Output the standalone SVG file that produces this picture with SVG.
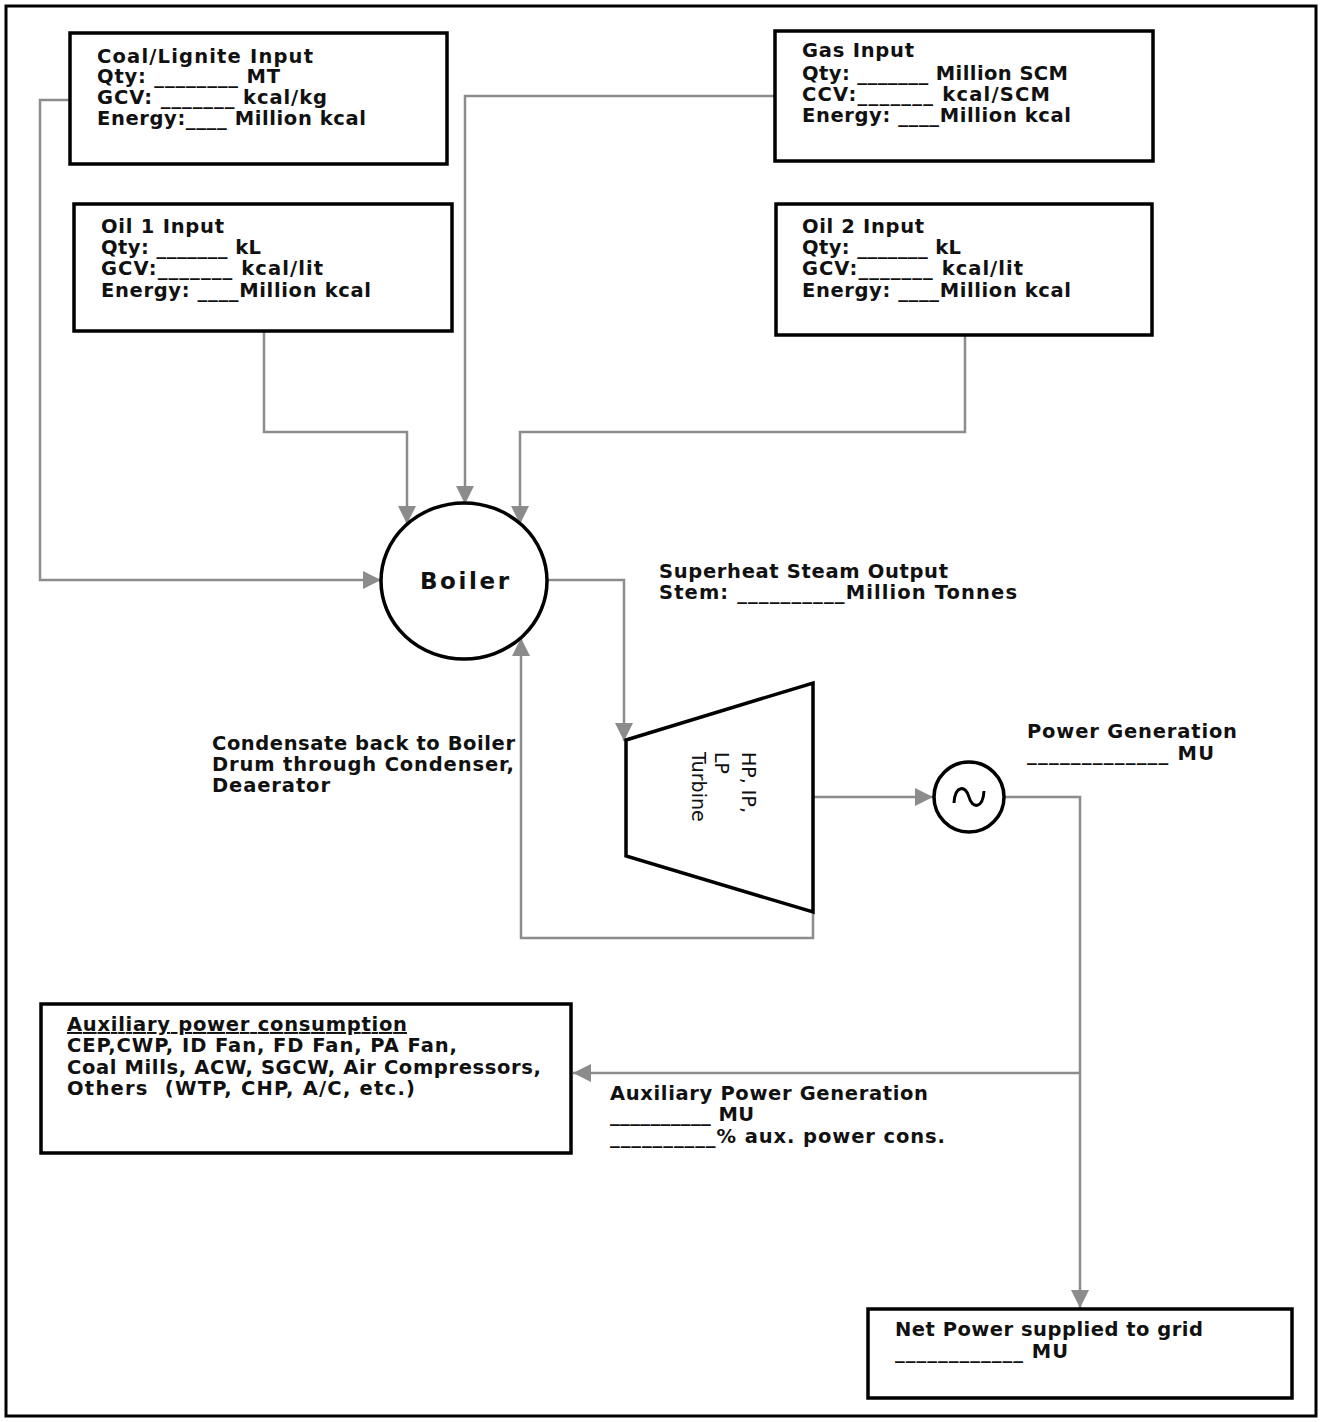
<svg xmlns="http://www.w3.org/2000/svg" width="1320" height="1422" viewBox="0 0 1320 1422">
<style>
.t{font-family:"DejaVu Sans","Verdana",sans-serif;font-weight:bold;font-size:19.5px;fill:#111}
.box{fill:#fff;stroke:#000;stroke-width:3.5}
.c{fill:none;stroke:#8c8c8c;stroke-width:2.5}
.shape{fill:#fff;stroke:#000;stroke-width:3.5}
.rt{font-family:"DejaVu Sans",sans-serif;font-size:19px;fill:#111}
</style>
<defs>
<marker id="ah" markerUnits="userSpaceOnUse" markerWidth="20" markerHeight="18" refX="18" refY="9" orient="auto">
<path d="M0,0 L18,9 L0,18 Z" fill="#8c8c8c"/>
</marker>
</defs>
<rect x="0" y="0" width="1320" height="1422" fill="#fff"/>
<rect x="6" y="6" width="1310" height="1410" fill="none" stroke="#000" stroke-width="3"/>

<g id="connectors">
<polyline class="c" points="70,100 40,100 40,580 381,580" marker-end="url(#ah)"/>
<polyline class="c" points="776,96 465,96 465,504" marker-end="url(#ah)"/>
<polyline class="c" points="264,331 264,432 407,432 407,524" marker-end="url(#ah)"/>
<polyline class="c" points="965,335 965,432 520,432 520,524" marker-end="url(#ah)"/>
<polyline class="c" points="547,580 624,580 624,741" marker-end="url(#ah)"/>
<polyline class="c" points="813,912 813,938 521,938 521,638" marker-end="url(#ah)"/>
<polyline class="c" points="813,797 933,797" marker-end="url(#ah)"/>
<polyline class="c" points="1005,797 1080,797 1080,1308" marker-end="url(#ah)"/>
<polyline class="c" points="1080,1073 573,1073" marker-end="url(#ah)"/>
</g>

<g id="coal">
<rect class="box" x="70" y="33" width="377" height="131"/>
<text class="t" x="97" y="63" textLength="216">Coal/Lignite Input</text>
<text class="t" x="97" y="83" textLength="183">Qty: ________ MT</text>
<text class="t" x="97" y="104" textLength="230">GCV: _______ kcal/kg</text>
<text class="t" x="97" y="125" textLength="269">Energy:____ Million kcal</text>
</g>

<g id="gas">
<rect class="box" x="775" y="31" width="378" height="130"/>
<text class="t" x="802" y="57" textLength="112">Gas Input</text>
<text class="t" x="802" y="80" textLength="266">Qty: _______ Million SCM</text>
<text class="t" x="802" y="101" textLength="248">CCV:_______ kcal/SCM</text>
<text class="t" x="802" y="122" textLength="269">Energy: ____Million kcal</text>
</g>

<g id="oil1">
<rect class="box" x="74" y="204" width="378" height="127"/>
<text class="t" x="101" y="233" textLength="123">Oil 1 Input</text>
<text class="t" x="101" y="254" textLength="160">Qty: _______ kL</text>
<text class="t" x="101" y="275" textLength="222">GCV:_______ kcal/lit</text>
<text class="t" x="101" y="297" textLength="270">Energy: ____Million kcal</text>
</g>

<g id="oil2">
<rect class="box" x="776" y="204" width="376" height="131"/>
<text class="t" x="802" y="233" textLength="122">Oil 2 Input</text>
<text class="t" x="802" y="254" textLength="159">Qty: _______ kL</text>
<text class="t" x="802" y="275" textLength="221">GCV:_______ kcal/lit</text>
<text class="t" x="802" y="297" textLength="269">Energy: ____Million kcal</text>
</g>

<g id="boiler">
<ellipse class="shape" cx="464" cy="581" rx="83" ry="78"/>
<text class="t" x="420" y="589" textLength="89" style="font-size:23px">Boiler</text>
</g>

<g id="steam-label">
<text class="t" x="659" y="578" textLength="289">Superheat Steam Output</text>
<text class="t" x="659" y="599" textLength="358">Stem: __________Million Tonnes</text>
</g>

<g id="turbine">
<polygon class="shape" points="626,740 813,683 813,912 626,856"/>
<g transform="translate(742,752) rotate(90)">
<text class="rt" x="0" y="0">HP, IP,</text>
<text class="rt" x="0" y="27">LP</text>
<text class="rt" x="0" y="50">Turbine</text>
</g>
</g>

<g id="condensate-label">
<text class="t" x="212" y="750" textLength="303">Condensate back to Boiler</text>
<text class="t" x="212" y="771" textLength="302">Drum through Condenser,</text>
<text class="t" x="212" y="792" textLength="118">Deaerator</text>
</g>

<g id="generator">
<circle class="shape" cx="969" cy="797" r="35"/>
<path d="M954,803 C955,785 966,785 969,797 C972,809 983,809 984,791" fill="none" stroke="#000" stroke-width="3"/>
</g>

<g id="power-gen-label">
<text class="t" x="1027" y="738" textLength="210">Power Generation</text>
<text class="t" x="1027" y="760" textLength="187">_____________ MU</text>
</g>

<g id="aux">
<rect class="box" x="41" y="1004" width="530" height="149"/>
<text class="t" x="67" y="1031" textLength="340" text-decoration="underline">Auxiliary power consumption</text>
<text class="t" x="67" y="1052" textLength="390">CEP,CWP, ID Fan, FD Fan, PA Fan,</text>
<text class="t" x="67" y="1074" textLength="474">Coal Mills, ACW, SGCW, Air Compressors,</text>
<text class="t" x="67" y="1095" textLength="348" xml:space="preserve">Others  (WTP, CHP, A/C, etc.)</text>
</g>

<g id="aux-gen-label">
<text class="t" x="610" y="1100" textLength="318">Auxiliary Power Generation</text>
<text class="t" x="610" y="1121" textLength="144">__________ MU</text>
<text class="t" x="610" y="1143" textLength="335">__________% aux. power cons.</text>
</g>

<g id="net">
<rect class="box" x="868" y="1309" width="424" height="89"/>
<text class="t" x="895" y="1336" textLength="308">Net Power supplied to grid</text>
<text class="t" x="895" y="1358" textLength="173">____________ MU</text>
</g>
</svg>
